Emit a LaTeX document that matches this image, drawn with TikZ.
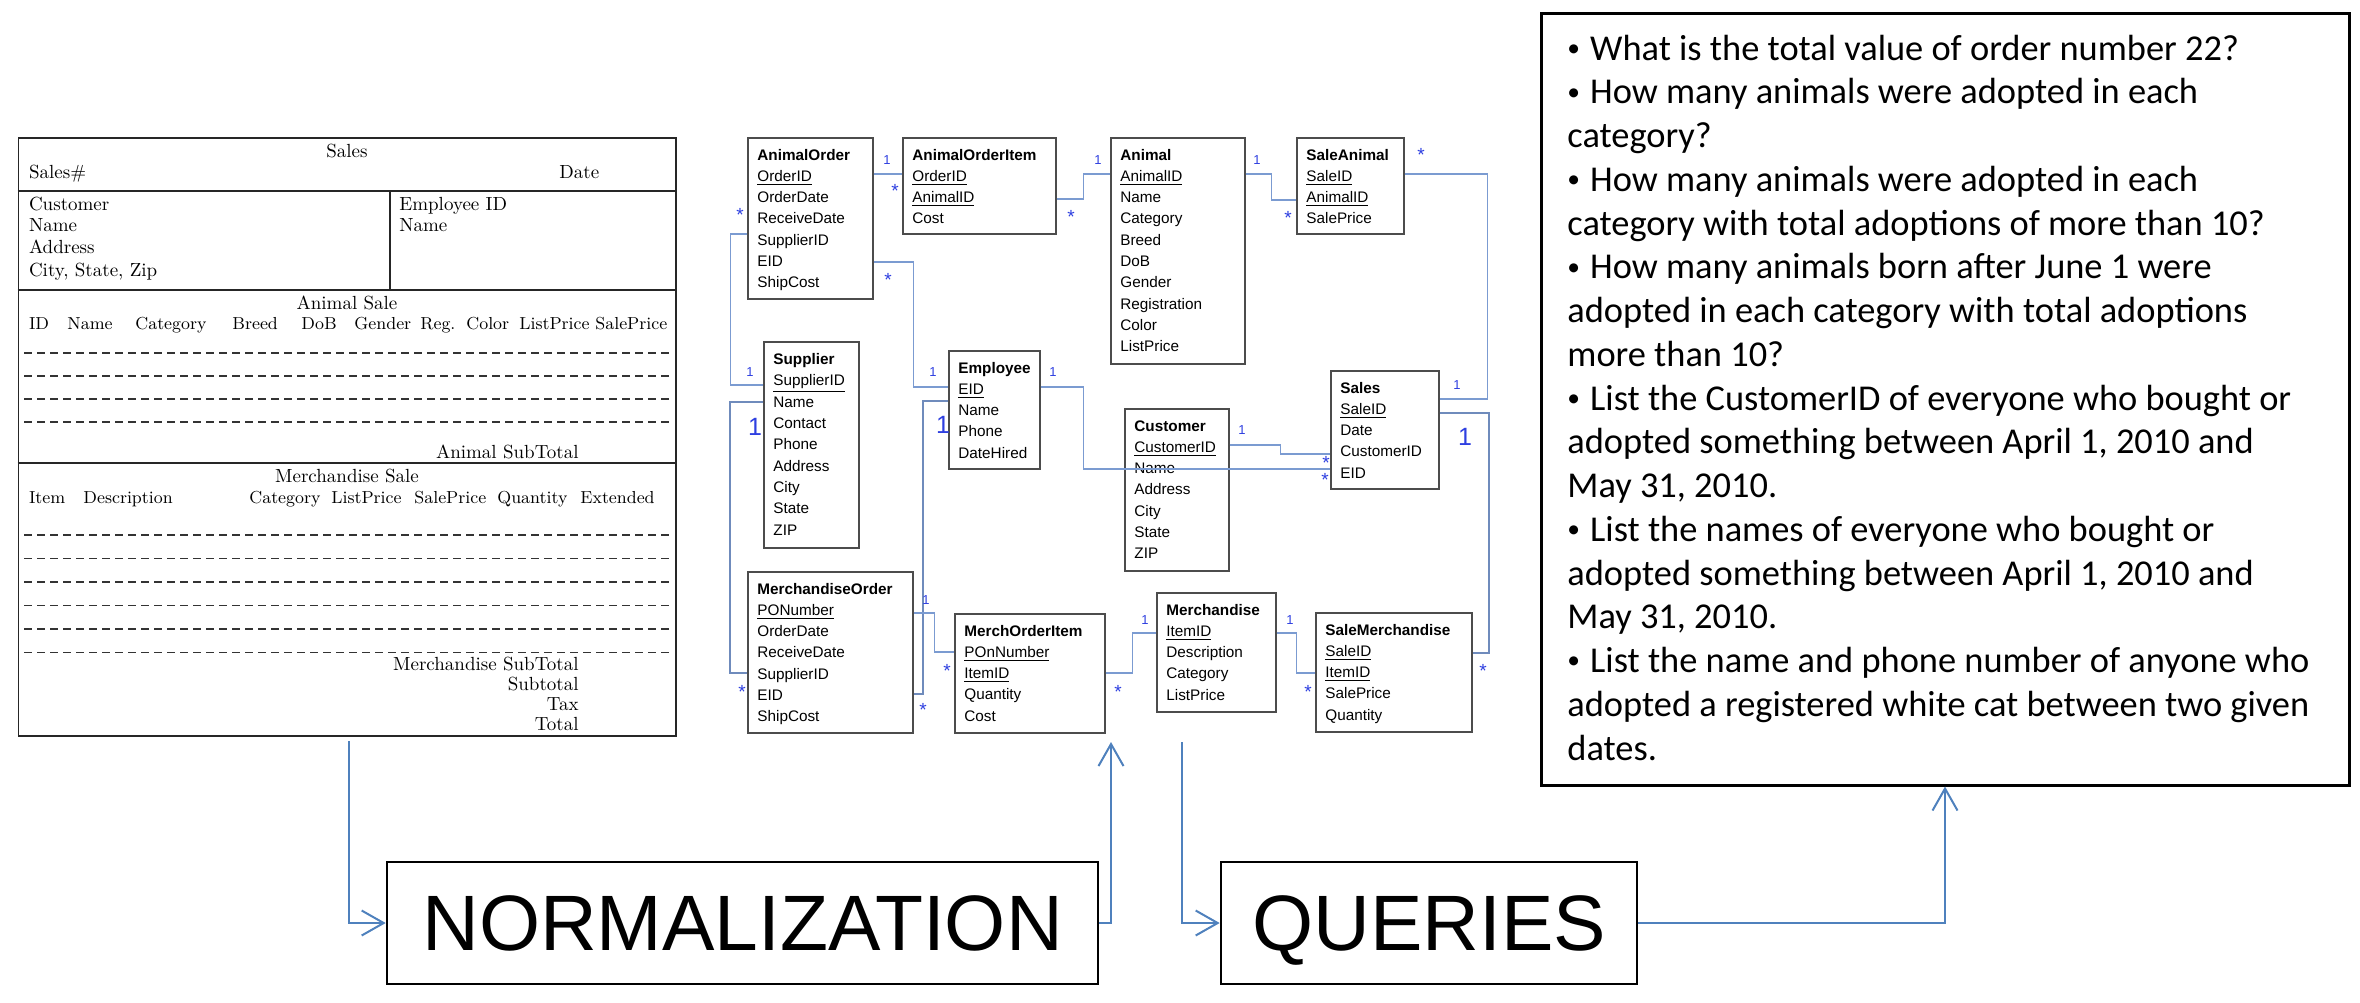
\documentclass[tikz,border=0pt]{standalone}
\usepackage{fontspec}
\newfontfamily\arialf{Liberation Sans}
\newfontfamily\calib{Carlito}
\usetikzlibrary{fit,calc,arrows.meta}
\definecolor{erline}{HTML}{7B9BD1}
\definecolor{erlab}{HTML}{2E3FE0}
\definecolor{flowc}{HTML}{4F81BD}
\newcommand\erfont{\arialf\fontsize{7.65}{10.65}\selectfont}
\newcommand\formfont{\fontsize{9.5}{11}\selectfont}
\newcommand\hdrfont{\fontsize{8.7}{10}\selectfont}
\newcommand\qfont{\calib\fontsize{18.2}{21.875}\selectfont}
\newcommand\qbul{\raisebox{.1em}{\scalebox{.7}{•}}\hspace{.05em}}
\tikzset{
  ebox/.style={draw=black!70, line width=0.6pt, inner sep=0pt},
  etext/.style={font=\erfont, inner sep=0pt, anchor=base west},
  erc/.style={draw=erline, line width=0.6pt},
  erct/.style={draw=erline!90!black, line width=1pt},
  lab/.style={text=erlab, font=\arialf\fontsize{6.5}{7}\selectfont, inner sep=0pt},
  starlab/.style={text=erlab, font=\arialf\fontsize{9.5}{10}\selectfont, inner sep=0pt},
  biglab/.style={text=erlab, font=\arialf\fontsize{12.5}{14}\selectfont, inner sep=0pt},
  ftxt/.style={font=\formfont, inner sep=0pt, anchor=base west},
  fhdr/.style={font=\hdrfont, inner sep=0pt, anchor=base west},
  fline/.style={draw=black!85, line width=0.9pt},
  fdash/.style={draw=black!80, line width=0.55pt, dash pattern=on 4pt off 2.5pt},
  bigbox/.style={draw=black, line width=1.3pt, inner sep=0pt},
  flowarr/.style={draw=flowc, line width=1pt, -{Straight Barb[length=11pt,width=12.5pt,line width=1pt]}},
}
\newcommand\entity[6]{%
  \coordinate (#1-a) at (#2,#3);
  \coordinate (#1-b) at (#4,#5);
  \node[ebox, fit=(#1-a)(#1-b)] (#1) {};
  \node[etext] (#1-t) at ($(#1-a)+(9,22)$) {\begin{tabular}[t]{@{}l@{}}#6\end{tabular}};
}
\begin{document}
\begin{tikzpicture}[x=0.5pt,y=-0.5pt]
\useasboundingbox (0,0) rectangle (2360,1002);

% ---------------- Sales form ----------------
\coordinate (fa) at (18.5,138);
\coordinate (fb) at (676,736);
\node[fline, inner sep=0pt, fit=(fa)(fb)] (form) {};
\draw[fline] (form.west |- 0,191) -- (form.east |- 0,191);
\draw[fline] (390,191) -- (390,290);
\draw[fline] (form.west |- 0,290) -- (form.east |- 0,290);
\draw[fline] (form.west |- 0,463) -- (form.east |- 0,463);
\foreach \yy in {353,376,399,422,535,558.5,582,605.5,629,652.5}
  \draw[fdash] (24,\yy) -- (673,\yy);

\node[ftxt, anchor=base] (fsales) at (347,157) {Sales};
\node[ftxt] (fsno) at (28.6,178) {Sales\#};
\node[ftxt] (fdate) at (559,178) {Date};
\node[ftxt] (fcus) at (28.6,210) {Customer};
\node[ftxt] (fname) at (28.6,231) {Name};
\node[ftxt] (faddr) at (28.6,253) {Address};
\node[ftxt] (fcity) at (28.6,276) {City, State, Zip};
\node[ftxt] (femp) at (399,210) {Employee ID};
\node[ftxt] (fename) at (399,231) {Name};
\node[ftxt, anchor=base] (fas) at (347,309) {Animal Sale};
\node[fhdr] (h1) at (28.6,329) {ID};
\node[fhdr] (h2) at (67,329) {Name};
\node[fhdr] (h3) at (135,329) {Category};
\node[fhdr] (h4) at (232,329) {Breed};
\node[fhdr] (h5) at (301,329) {DoB};
\node[fhdr] (h6) at (354,329) {Gender};
\node[fhdr] (h7) at (420,329) {Reg.};
\node[fhdr] (h8) at (466,329) {Color};
\node[fhdr] (h9) at (519,329) {ListPrice};
\node[fhdr] (h10) at (595,329) {SalePrice};
\node[ftxt, anchor=base east] (fast) at (579,458) {Animal SubTotal};
\node[ftxt, anchor=base] (fms) at (347,482) {Merchandise Sale};
\node[fhdr] (m1) at (28.6,503) {Item};
\node[fhdr] (m2) at (83,503) {Description};
\node[fhdr] (m3) at (249,503) {Category};
\node[fhdr] (m4) at (331,503) {ListPrice};
\node[fhdr] (m5) at (414,503) {SalePrice};
\node[fhdr] (m6) at (497,503) {Quantity};
\node[fhdr] (m7) at (580,503) {Extended};
\node[ftxt, anchor=base east] (fmst) at (579,670) {Merchandise SubTotal};
\node[ftxt, anchor=base east] (fsub) at (579,690) {Subtotal};
\node[ftxt, anchor=base east] (ftax) at (579,710) {Tax};
\node[ftxt, anchor=base east] (ftot) at (579,730) {Total};

% ---------------- ER diagram ----------------
\entity{ao}{748}{138}{873}{299}{\textbf{AnimalOrder}\\\underline{OrderID}\\OrderDate\\ReceiveDate\\SupplierID\\EID\\ShipCost}
\entity{aoi}{903}{138}{1056}{234}{\textbf{AnimalOrderItem}\\\underline{OrderID}\\\underline{AnimalID}\\Cost}
\entity{an}{1111}{138}{1245}{364}{\textbf{Animal}\\\underline{AnimalID}\\Name\\Category\\Breed\\DoB\\Gender\\Registration\\Color\\ListPrice}
\entity{sa}{1297}{138}{1404}{234}{\textbf{SaleAnimal}\\\underline{SaleID}\\\underline{AnimalID}\\SalePrice}
\entity{sup}{764}{342}{859}{548}{\textbf{Supplier}\\\underline{SupplierID}\\Name\\Contact\\Phone\\Address\\City\\State\\ZIP}
\entity{emp}{949}{351}{1040}{469}{\textbf{Employee}\\\underline{EID}\\Name\\Phone\\DateHired}
\entity{cus}{1125}{409}{1229}{571}{\textbf{Customer}\\\underline{CustomerID}\\Name\\Address\\City\\State\\ZIP}
\entity{sal}{1331}{371}{1439}{489}{\textbf{Sales}\\\underline{SaleID}\\Date\\CustomerID\\EID}
\entity{mo}{748}{572}{913}{733}{\textbf{MerchandiseOrder}\\\underline{PONumber}\\OrderDate\\ReceiveDate\\SupplierID\\EID\\ShipCost}
\entity{moi}{955}{614}{1105}{733}{\textbf{MerchOrderItem}\\\underline{POnNumber}\\\underline{ItemID}\\Quantity\\Cost}
\entity{mer}{1157}{593}{1276}{712}{\textbf{Merchandise}\\\underline{ItemID}\\Description\\Category\\ListPrice}
\entity{sm}{1316}{613}{1472}{732}{\textbf{SaleMerchandise}\\\underline{SaleID}\\\underline{ItemID}\\SalePrice\\Quantity}

% connectors
\draw[erc] (ao.east |- 0,174) -- (aoi.west |- 0,174);
\draw[erc] (aoi.east |- 0,199) -- ++(27,0) |- (an.west |- 0,174);
\draw[erc] (an.east |- 0,174) -- ++(26,0) |- (sa.west |- 0,200);
\draw[erc] (sa.east |- 0,174) -- ++(83,0) |- (sal.east |- 0,399);
\draw[erct] (sal.east |- 0,413) -- ++(49,0) |- (sm.east |- 0,653);
\draw[erc] (ao.west |- 0,234) -- ++(-17,0) |- (sup.west |- 0,385);
\draw[erct] (sup.west |- 0,402) -- ++(-33,0) |- (mo.west |- 0,673);
\draw[erc] (ao.east |- 0,262) -- ++(40,0) |- (emp.west |- 0,387);
\draw[erct] (emp.west |- 0,401) -- ++(-25,0) |- (mo.east |- 0,694);
\draw[erc] (emp.east |- 0,387) -- ++(43,0) |- (sal.west |- 0,469);
\draw[erc] (cus.east |- 0,445) -- ++(51,0) |- (sal.west |- 0,454);
\draw[erc] (mo.east |- 0,613) -- ++(21,0) |- (moi.west |- 0,652);
\draw[erc] (moi.east |- 0,673) -- ++(27,0) |- (mer.west |- 0,633);
\draw[erc] (mer.east |- 0,633) -- ++(20,0) |- (sm.west |- 0,673);

% cardinality labels
\foreach \px/\py [count=\i] in {887/160,1098/160,1257/160,1457/385,750/372,933/372,1053/372,1242/430,926/600,1145/620,1290/620}
  \node[lab] (one\i) at (\px,\py) {1};
\foreach \px/\py [count=\i] in {895/191,1071/217,1288/218,1421/155,740/215,742/692,888/280,923/710,947/671,1325/480,1326/463,1118/692,1308/692,1483/671}
  \node[starlab] (star\i) at (\px,\py) {*};
\node[biglab] (big1) at (755,427) {1};
\node[biglab] (big2) at (943,425) {1};
\node[biglab] (big3) at (1465,437) {1};

% ---------------- Questions box ----------------
\coordinate (qa) at (1541,13);
\coordinate (qb) at (2349,785);
\node[draw=black, line width=1.5pt, inner sep=0pt, fit=(qa)(qb)] (qbox) {};
\node[font=\qfont, inner sep=0pt, anchor=base west] (qtext) at (1567,60) {\begin{tabular}[t]{@{}l@{}}%
\qbul{} What is the total value of order number 22?\\
\qbul{} How many animals were adopted in each\\
category?\\
\qbul{} How many animals were adopted in each\\
category with total adoptions of more than 10?\\
\qbul{} How many animals born after June 1 were\\
adopted in each category with total adoptions\\
more than 10?\\
\qbul{} List the CustomerID of everyone who bought or\\
adopted something between April 1, 2010 and\\
May 31, 2010.\\
\qbul{} List the names of everyone who bought or\\
adopted something between April 1, 2010 and\\
May 31, 2010.\\
\qbul{} List the name and phone number of anyone who\\
adopted a registered white cat between two given\\
dates.\end{tabular}};

% ---------------- Process boxes ----------------
\coordinate (na) at (387,862);
\coordinate (nb) at (1098,984);
\node[bigbox, fit=(na)(nb)] (norm) {};
\node[inner sep=0pt, font=\arialf\fontsize{39.3}{44}\selectfont, text depth=0pt] (normt) at (norm.center) {NORMALIZATION};
\coordinate (qra) at (1221,862);
\coordinate (qrb) at (1637,984);
\node[bigbox, fit=(qra)(qrb)] (qry) {};
\node[inner sep=0pt, font=\arialf\fontsize{39.3}{44}\selectfont, text depth=0pt] (qryt) at (qry.center) {QUERIES};

\coordinate (s1) at (348.5,741);
\coordinate (e1) at (1111,742);
\coordinate (e2) at (1182,742);
\draw[flowarr] (s1) |- (norm.west);
\draw[flowarr] (norm.east) -| (e1);
\draw[flowarr] (e2) |- (qry.west);
\draw[flowarr, line width=1.4pt] (qry.east) -| (qbox.south);
\end{tikzpicture}
\end{document}
